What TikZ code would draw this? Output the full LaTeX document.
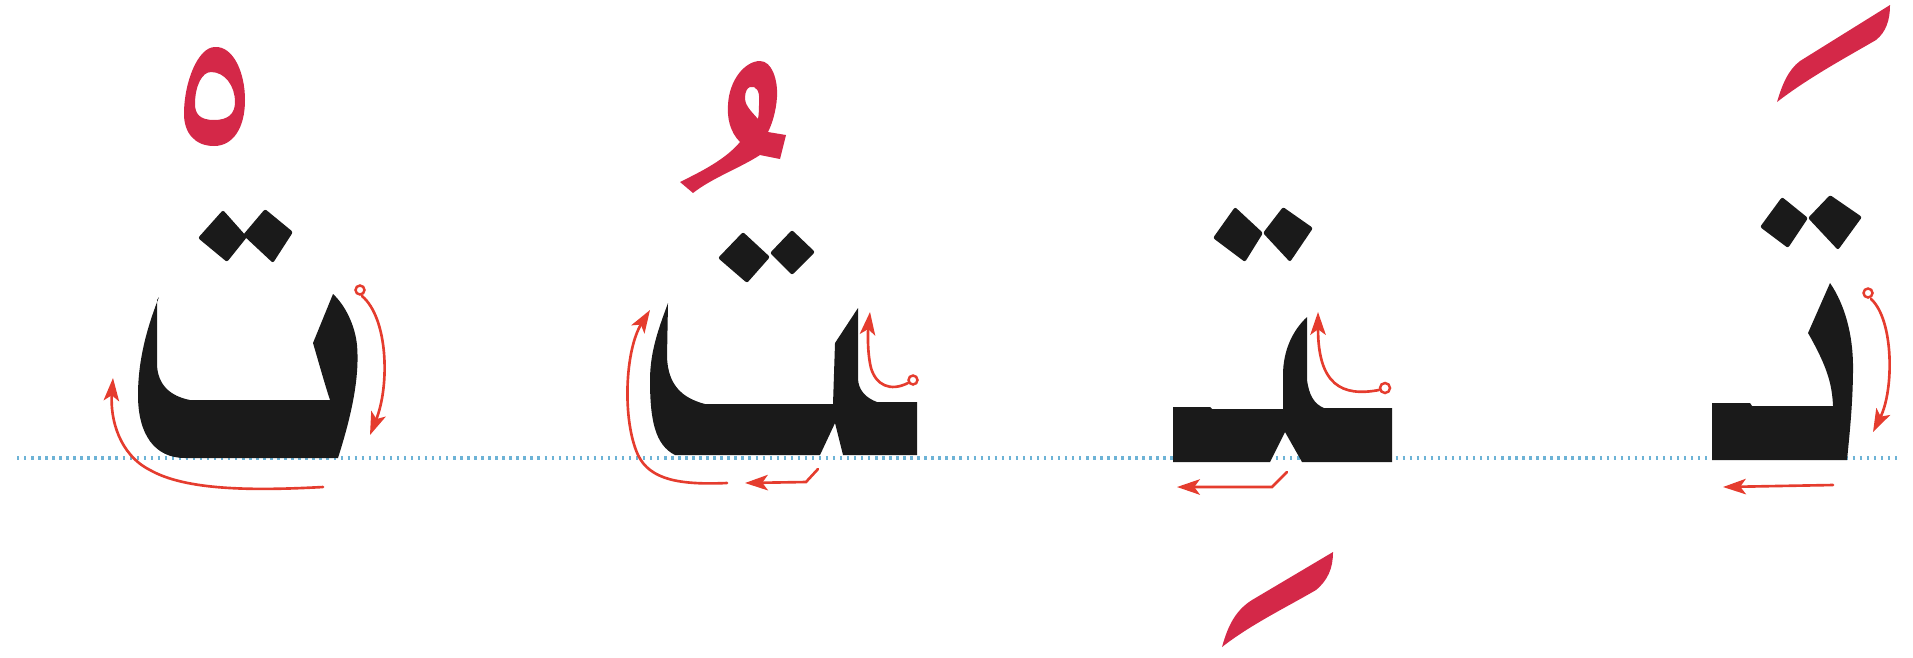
\documentclass[tikz,border=0pt]{standalone}
\usetikzlibrary{arrows.meta}
\definecolor{taInk}{HTML}{1A1A1A}
\definecolor{taRed}{HTML}{D42848}
\definecolor{taArrow}{HTML}{E53C2E}
\definecolor{taBase}{HTML}{6DB3D6}
\begin{document}
\begin{tikzpicture}[
  x=0.01cm, y=-0.01cm,
  ta letter/.style={fill=taInk},
  ta dot/.style={fill=taInk,rounded corners=.6pt},
  ta mark/.style={fill=taRed,even odd rule},
  ta arrow/.style={draw=taArrow,line width=.75pt,line cap=round,
    -{Stealth[length=6.5pt,width=4.4pt,inset=1.6pt]}},
  ta start/.style={draw=taArrow,line width=.7pt,fill=white},
  ta base/.style={draw=taBase,line width=.9pt,dash pattern=on .7pt off 1.3pt}
]
\useasboundingbox (0,0) rectangle (1913,657);
% Baseline shared by the four forms.
\def\yBase{458}
\draw[ta base] (17,\yBase) -- (1897,\yBase);

% Isolated form with sukun.
\fill[ta mark] (215,47) .. controls (233,46) and (245,72) .. (245,100)
  .. controls (245,128) and (233,146) .. (214,146)
  .. controls (195,146) and (184,133) .. (184,114)
  .. controls (184,82) and (198,47) .. (215,47) -- cycle
  (211,72) .. controls (225,72) and (235,86) .. (235,102)
  .. controls (235,114) and (228,120) .. (214,120)
  .. controls (200,120) and (195,114) .. (195,104)
  .. controls (195,86) and (202,72) .. (211,72) -- cycle;
\fill[ta dot] (198,238) -- (223,210) -- (247,237) -- (227,262) -- cycle;
\fill[ta dot] (243,235) -- (265,209) -- (293,232) -- (273,263) -- cycle;
\fill[ta letter] (159,297) .. controls (150,320) and (138,355) .. (138,395)
  .. controls (138,435) and (155,458) .. (185,458) -- (338,458)
  .. controls (350,420) and (360,380) .. (357,345)
  .. controls (355,325) and (345,305) .. (333,294) -- (313,343)
  .. controls (318,360) and (325,385) .. (330,400) -- (190,400)
  .. controls (170,396) and (158,385) .. (157,365) -- (157,300) -- cycle;
\draw[ta arrow] (362,296) .. controls (388,318) and (390,385) .. (370,435);
\draw[ta start] (360,290) circle[radius=4.5];
\draw[ta arrow] (323,487) .. controls (250,491) and (185,490) .. (150,470)
  .. controls (120,455) and (110,420) .. (113,378);

% Final form with damma.
\fill[ta mark] (680,182) .. controls (700,172) and (725,160) .. (740,142)
  .. controls (730,132) and (727,118) .. (728,105)
  .. controls (729,80) and (745,61) .. (760,61)
  .. controls (772,61) and (778,80) .. (777,97)
  .. controls (776,112) and (772,124) .. (768,132)
  -- (786,135) -- (780,159) -- (760,155)
  .. controls (740,168) and (712,178) .. (693,193) -- cycle
  (750,87) .. controls (756,85) and (760,92) .. (759,100)
  .. controls (759,108) and (759,114) .. (758,119)
  .. controls (752,112) and (745,106) .. (745,98)
  .. controls (745,92) and (747,88) .. (750,87) -- cycle;
\fill[ta dot] (718,258) -- (743,232) -- (770,257) -- (747,283) -- cycle;
\fill[ta dot] (770,253) -- (792,230) -- (815,252) -- (792,275) -- cycle;
\fill[ta letter] (668,303) .. controls (660,325) and (650,350) .. (650,380)
  .. controls (650,420) and (655,445) .. (675,455) -- (820,455) -- (835,423)
  -- (843,455) -- (917,455) -- (917,402) -- (877,402)
  .. controls (866,398) and (858,390) .. (858,378) -- (858,308) -- (835,343)
  -- (833,404) -- (705,404)
  .. controls (682,398) and (668,385) .. (667,357) -- cycle;
\draw[ta arrow] (727,483) .. controls (680,485) and (650,480) .. (638,455)
  .. controls (622,420) and (625,350) .. (650,310);
\draw[ta arrow] (818,469) -- (806,482) -- (745,483);
\draw[ta arrow] (908,383) .. controls (890,392) and (876,385) .. (871,368)
  .. controls (867,352) and (868,330) .. (870,312);
\draw[ta start] (913,380) circle[radius=4.5];

% Medial form with kasra.
\fill[ta dot] (1213,238) -- (1235,207) -- (1263,233) -- (1245,262) -- cycle;
\fill[ta dot] (1263,233) -- (1283,207) -- (1313,228) -- (1290,262) -- cycle;
\fill[ta letter] (1173,407) -- (1210,407) -- (1212,409) -- (1283,409) -- (1283,375)
  .. controls (1283,350) and (1293,330) .. (1307,317) -- (1307,380)
  .. controls (1309,395) and (1314,404) .. (1324,408) -- (1392,408) -- (1392,462)
  -- (1302,462) -- (1285,432) -- (1270,462) -- (1173,462) -- cycle;
\draw[ta arrow] (1379,390) .. controls (1342,397) and (1318,385) .. (1318,312);
\draw[ta start] (1385,388) circle[radius=5];
\draw[ta arrow] (1287,472) -- (1272,487) -- (1177,487);
\fill[ta mark] (1222,647) .. controls (1228,625) and (1236,610) .. (1252,600)
  -- (1333,552) .. controls (1333,568) and (1328,580) .. (1316,590)
  .. controls (1285,608) and (1250,625) .. (1222,647) -- cycle;

% Initial form with fatha.
\fill[ta mark] (1777,102) .. controls (1782,85) and (1788,70) .. (1800,61)
  -- (1890,5) .. controls (1890,20) and (1886,32) .. (1876,40)
  .. controls (1845,58) and (1808,78) .. (1777,102) -- cycle;
\fill[ta dot] (1760,227) -- (1782,197) -- (1808,218) -- (1788,248) -- cycle;
\fill[ta dot] (1808,218) -- (1830,195) -- (1862,217) -- (1838,250) -- cycle;
\fill[ta letter] (1712,403) -- (1750,403) -- (1752,406) -- (1833,406)
  .. controls (1832,385) and (1828,368) .. (1808,333) -- (1830,283)
  .. controls (1845,305) and (1853,335) .. (1853,367)
  .. controls (1853,400) and (1850,430) .. (1847,460) -- (1712,460) -- cycle;
\draw[ta arrow] (1871,299) .. controls (1894,320) and (1894,390) .. (1873,432);
\draw[ta start] (1868,293) circle[radius=4.5];
\draw[ta arrow] (1833,485) -- (1723,487);
\end{tikzpicture}
\end{document}
